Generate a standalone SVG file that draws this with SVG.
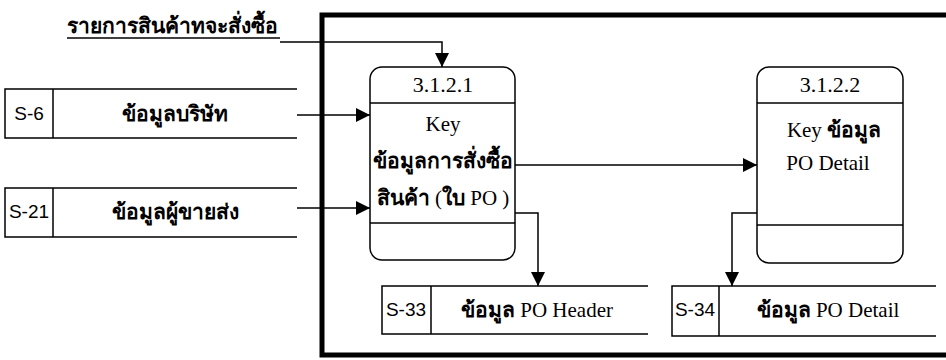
<svg xmlns="http://www.w3.org/2000/svg" width="946" height="360" viewBox="0 0 946 360">
<defs>
<marker id="ah" viewBox="0 0 10 10" refX="10" refY="5" markerWidth="14" markerHeight="14" markerUnits="userSpaceOnUse" orient="auto">
<path d="M0,0 L10,5 L0,10 z" fill="#000"/>
</marker>
<style>
.t{font-family:"Liberation Serif","DejaVu Serif",serif;font-size:21px;fill:#000;text-anchor:middle}
.n{font-family:"Liberation Serif","DejaVu Serif",serif;font-size:22px;fill:#000;text-anchor:middle}
.sl{font-family:"Liberation Sans","DejaVu Sans",sans-serif;font-size:19px;fill:#000;text-anchor:middle}
.th{font-family:"Liberation Serif","DejaVu Sans","Noto Sans",sans-serif;font-size:21px;font-weight:bold;fill:#000;text-anchor:middle}
.la{font-family:"Liberation Serif",serif;font-size:21px;font-weight:normal}
.s{fill:none;stroke:#000;stroke-width:1.5}
.c{fill:none;stroke:#000;stroke-width:1.5;marker-end:url(#ah)}
</style>
</defs>
<rect x="322" y="15" width="640" height="340" fill="none" stroke="#000" stroke-width="5"/>
<g id="p1">
<rect class="s" x="370" y="67" width="145" height="193" rx="12"/>
<line class="s" x1="370" y1="103" x2="515" y2="103"/>
<line class="s" x1="370" y1="223" x2="515" y2="223"/>
<text class="n" x="443" y="92">3.1.2.1</text>
<text class="t" x="443" y="131">Key</text>
<text class="th" x="443" y="168">ข้อมูลการสั่งซื้อ</text>
<text class="th" x="443" y="205">สินค้า <tspan class="la">(</tspan>ใบ <tspan class="la">PO )</tspan></text>
</g>
<g id="p2">
<rect class="s" x="757" y="67" width="146" height="196" rx="12"/>
<line class="s" x1="757" y1="103" x2="903" y2="103"/>
<line class="s" x1="757" y1="225" x2="903" y2="225"/>
<text class="n" x="830" y="92">3.1.2.2</text>
<text class="th" x="834" y="137"><tspan class="la">Key</tspan> ข้อมูล</text>
<text class="t" x="828" y="170">PO Detail</text>
</g>
<g id="s6">
<path class="s" d="M297,89 H5 V138 H297 M53,89 V138"/>
<text class="sl" x="29" y="120">S-6</text>
<text class="th" x="175" y="121">ข้อมูลบริษัท</text>
</g>
<g id="s21">
<path class="s" d="M297,188 H5 V237 H297 M53,188 V237"/>
<text class="sl" x="29" y="218">S-21</text>
<text class="th" x="175" y="219">ข้อมูลผู้ขายส่ง</text>
</g>
<g id="s33">
<path class="s" d="M648,286 H382 V334 H648 M431,286 V334"/>
<text class="sl" x="406" y="316">S-33</text>
<text class="th" x="537" y="317">ข้อมูล <tspan class="la">PO Header</tspan></text>
</g>
<g id="s34">
<path class="s" d="M936,286 H672 V336 H936 M719,286 V336"/>
<text class="sl" x="695" y="316">S-34</text>
<text class="th" x="828" y="317">ข้อมูล <tspan class="la">PO Detail</tspan></text>
</g>
<g id="lbl">
<text class="th" x="172" y="33">รายการสินค้าทจะสั่งซื้อ</text>
<line class="s" x1="67" y1="38" x2="280" y2="38"/>
</g>
<g id="connectors">
<path class="c" d="M280,42 H442 V67"/>
<path class="c" d="M297,115 H370"/>
<path class="c" d="M297,208 H370"/>
<path class="c" d="M515,165 H757"/>
<path class="c" d="M515,213 H538 V286"/>
<path class="c" d="M757,213 H732 V286"/>
</g>
</svg>
